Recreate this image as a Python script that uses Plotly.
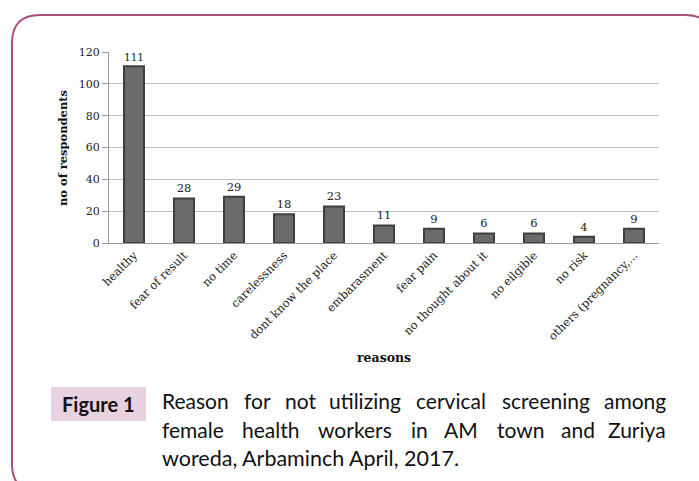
import plotly.graph_objects as go

categories = ["healthy", "fear of result", "no time", "carelessness", "dont know the place",
              "embarasment", "fear pain", "no thought about it", "no eilgible", "no risk",
              "others (pregnancy,..."]
respondents = [111, 28, 29, 18, 23, 11, 9, 6, 6, 4, 9]
y_ticks = [0, 20, 40, 60, 80, 100, 120]

caption_title = "Figure 1"
caption_line1 = ["Reason", "for", "not", "utilizing", "cervical", "screening", "among"]
caption_line2 = ["female", "health", "workers", "in", "AM", "town", "and", "Zuriya"]
caption_line3 = "woreda, Arbaminch April, 2017."

W, H = 699, 481
L, R, T, B = 109, 659, 52, 243  # plot area in pixels


def px(x):
    return (x - L) / (R - L)


def py(y):
    return (B - y) / (B - T)


SERIF = "DejaVu Serif"
CAP = "Lato"
CAP_SIZE = 21

fig = go.Figure()
fig.add_trace(go.Bar(
    x=categories, y=respondents, width=0.4,
    marker=dict(color="#6b6b6b", line=dict(color="#3f3f3f", width=2)),
    text=[str(v) for v in respondents], textposition="outside",
    textfont=dict(family=SERIF, size=11.5, color="#222"),
    cliponaxis=False, showlegend=False, hoverinfo="skip",
))

# rounded border
bl, bt, br, bb, r = 12, 15, 713, 492, 28
path = (f"M {px(bl)},{py(bt + r)} Q {px(bl)},{py(bt)} {px(bl + r)},{py(bt)} "
        f"L {px(br - r)},{py(bt)} Q {px(br)},{py(bt)} {px(br)},{py(bt + r)} "
        f"L {px(br)},{py(bb - r)} Q {px(br)},{py(bb)} {px(br - r)},{py(bb)} "
        f"L {px(bl + r)},{py(bb)} Q {px(bl)},{py(bb)} {px(bl)},{py(bb - r)} Z")

shapes = [
    dict(type="path", xref="paper", yref="paper", path=path,
         line=dict(color="#a9507f", width=2), layer="below"),
    dict(type="rect", xref="paper", yref="paper", x0=px(51), x1=px(146), y0=py(421), y1=py(387),
         fillcolor="#e8d2e0", line=dict(width=0), layer="below"),
]


def ann(text, x, y, font, xanchor="left", angle=0):
    return dict(text=text, x=px(x), y=py(y), xref="paper", yref="paper", showarrow=False,
                font=font, xanchor=xanchor, yanchor="middle", textangle=angle)


cap_font = dict(family=CAP, size=CAP_SIZE, color="#111")
annotations = [
    ann("<b>no of respondents</b>", 63, 148, dict(family=SERIF, size=11.5, color="#111"), "center", -90),
    ann("<b>reasons</b>", 384, 357, dict(family=SERIF, size=12.5, color="#111"), "center"),
    ann(f"<b>{caption_title}</b>", 98.5, 404, dict(family=CAP, size=20, color="#111"), "center"),
    ann(caption_line3, 160, 458, dict(family=CAP, size=21.5, color="#111")),
]
# justified lines: word start positions (last word right-aligned to the text edge)
line1_x = [160, 242, 283, 327, 414, 500]
line2_x = [160, 240, 316, 409, 442, 495, 559]
TEXT_RIGHT = 668
for words, xs, yy in ((caption_line1, line1_x, 400), (caption_line2, line2_x, 429)):
    for w, x in zip(words[:-1], xs):
        annotations.append(ann(w, x, yy, cap_font))
    annotations.append(ann(words[-1], TEXT_RIGHT, yy, cap_font, "right"))

fig.update_layout(
    width=W, height=H,
    margin=dict(l=L, r=W - R, t=T, b=H - B),
    paper_bgcolor="white", plot_bgcolor="white",
    shapes=shapes, annotations=annotations,
)
fig.update_xaxes(
    tickangle=-45, tickfont=dict(family=SERIF, size=11.5, color="#222"),
    showline=True, linecolor="#999", linewidth=1, ticks="", showgrid=False,
    categoryorder="array", categoryarray=categories,
)
fig.update_yaxes(
    range=[0, 120], tickvals=y_ticks, ticks="outside", ticklen=6, tickcolor="#999",
    tickfont=dict(family=SERIF, size=11, color="#222"),
    showline=True, linecolor="#999", linewidth=1,
    showgrid=True, gridcolor="#bdbdbd", gridwidth=1, zeroline=False,
)

fig.write_html("out.html", config={"displayModeBar": False},
               post_script="document.body.style.margin='0';document.body.style.overflow='hidden';")
